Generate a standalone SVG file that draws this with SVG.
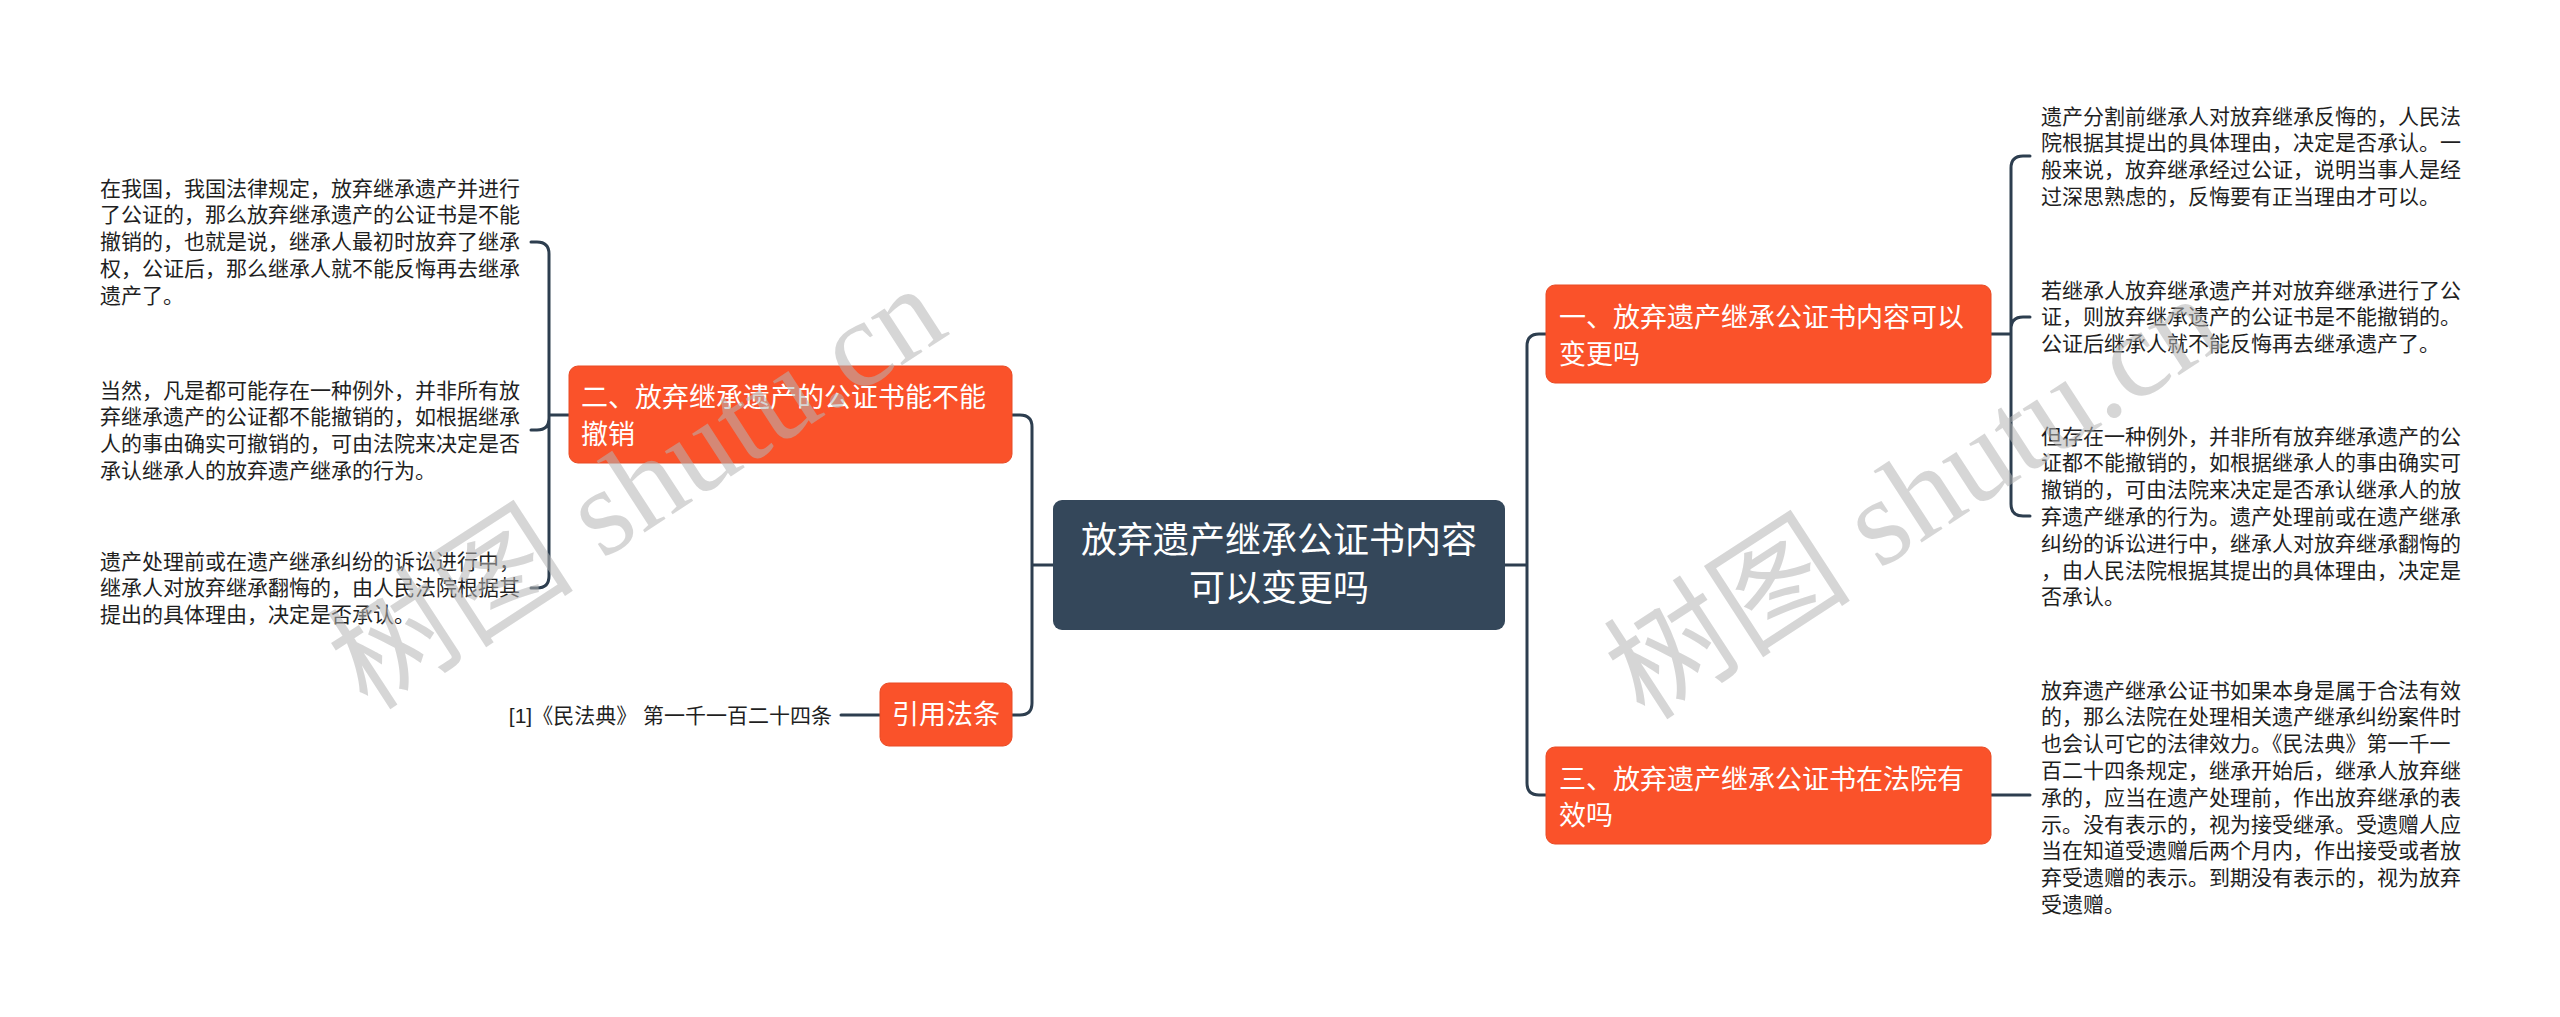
<svg xmlns="http://www.w3.org/2000/svg" width="2560" height="1017" viewBox="0 0 2560 1017">
<style>
.bg{fill:#ffffff}
.sub{fill:#fa522a;stroke:#e84a24;stroke-width:1}
.root{fill:#34475a}
.conn{fill:none;stroke:#2d3e4f;stroke-width:3;stroke-linecap:round}
.t{font-family:'Liberation Sans','Noto Sans CJK SC',sans-serif;dominant-baseline:central}
.leaf{font-size:21px;fill:#1f1f1f}
.st{font-size:27px;fill:#ffffff}
.rt{font-size:36px;fill:#ffffff;text-anchor:middle}
.wm{font-family:'Liberation Serif','Noto Sans CJK SC',serif;font-size:124px;fill:#b4b4b4;fill-opacity:0.55}
</style>
<rect class="bg" x="0" y="0" width="2560" height="1017"/>

<g id="connectors">
<path class="conn" d="M1053,565 H1032 M1032,565 V427 Q1032,415 1020,415 H1012 M1032,565 V703 Q1032,715 1020,715 H1012"/>
<path class="conn" d="M1505,565 H1527 M1527,565 V346 Q1527,334 1539,334 H1546 M1527,565 V783 Q1527,795 1539,795 H1546"/>
<path class="conn" d="M1991,334 H2011 M2030,156 H2023 Q2011,156 2011,168 V504 Q2011,516 2023,516 H2030 M2011,329 Q2011,317 2023,317 H2030"/>
<path class="conn" d="M1991,795 H2030"/>
<path class="conn" d="M569,415 H549 M531,242 H537 Q549,242 549,254 V576 Q549,588 537,588 H531 M549,418 Q549,430 537,430 H531"/>
<path class="conn" d="M880,715 H841"/>
</g>

<g id="root">
<rect class="root" x="1053" y="500" width="452" height="130" rx="9"/>
<text class="t rt" x="1279" y="540">放弃遗产继承公证书内容</text>
<text class="t rt" x="1279" y="588">可以变更吗</text>
</g>

<g id="node1">
<rect class="sub" x="1546" y="285" width="445" height="98" rx="9"/>
<text class="t st" x="1559" y="318">一、放弃遗产继承公证书内容可以</text>
<text class="t st" x="1559" y="355">变更吗</text>
</g>

<g id="node2">
<rect class="sub" x="569" y="366" width="443" height="97" rx="9"/>
<text class="t st" x="581" y="398">二、放弃继承遗产的公证书能不能</text>
<text class="t st" x="581" y="435">撤销</text>
</g>

<g id="node3">
<rect class="sub" x="1546" y="747" width="445" height="97" rx="9"/>
<text class="t st" x="1559" y="780">三、放弃遗产继承公证书在法院有</text>
<text class="t st" x="1559" y="816">效吗</text>
</g>

<g id="node-cite">
<rect class="sub" x="880" y="683" width="132" height="63" rx="9"/>
<text class="t st" x="946" y="715" text-anchor="middle">引用法条</text>
</g>

<g id="leaf-cite">
<text class="t leaf" x="832" y="715" text-anchor="end">[1]《民法典》 第一千一百二十四条</text>
</g>

<g id="leaf-l1">
<text class="t leaf" x="100" y="188">在我国，我国法律规定，放弃继承遗产并进行</text>
<text class="t leaf" x="100" y="214.8">了公证的，那么放弃继承遗产的公证书是不能</text>
<text class="t leaf" x="100" y="241.6">撤销的，也就是说，继承人最初时放弃了继承</text>
<text class="t leaf" x="100" y="268.4">权，公证后，那么继承人就不能反悔再去继承</text>
<text class="t leaf" x="100" y="295.2">遗产了。</text>
</g>

<g id="leaf-l2">
<text class="t leaf" x="100" y="390">当然，凡是都可能存在一种例外，并非所有放</text>
<text class="t leaf" x="100" y="416.8">弃继承遗产的公证都不能撤销的，如根据继承</text>
<text class="t leaf" x="100" y="443.6">人的事由确实可撤销的，可由法院来决定是否</text>
<text class="t leaf" x="100" y="470.4">承认继承人的放弃遗产继承的行为。</text>
</g>

<g id="leaf-l3">
<text class="t leaf" x="100" y="561">遗产处理前或在遗产继承纠纷的诉讼进行中，</text>
<text class="t leaf" x="100" y="587.8">继承人对放弃继承翻悔的，由人民法院根据其</text>
<text class="t leaf" x="100" y="614.6">提出的具体理由，决定是否承认。</text>
</g>

<g id="leaf-r1">
<text class="t leaf" x="2041" y="116">遗产分割前继承人对放弃继承反悔的，人民法</text>
<text class="t leaf" x="2041" y="142.8">院根据其提出的具体理由，决定是否承认。一</text>
<text class="t leaf" x="2041" y="169.6">般来说，放弃继承经过公证，说明当事人是经</text>
<text class="t leaf" x="2041" y="196.4">过深思熟虑的，反悔要有正当理由才可以。</text>
</g>

<g id="leaf-r2">
<text class="t leaf" x="2041" y="290">若继承人放弃继承遗产并对放弃继承进行了公</text>
<text class="t leaf" x="2041" y="316.8">证，则放弃继承遗产的公证书是不能撤销的。</text>
<text class="t leaf" x="2041" y="343.6">公证后继承人就不能反悔再去继承遗产了。</text>
</g>

<g id="leaf-r3">
<text class="t leaf" x="2041" y="436">但存在一种例外，并非所有放弃继承遗产的公</text>
<text class="t leaf" x="2041" y="462.8">证都不能撤销的，如根据继承人的事由确实可</text>
<text class="t leaf" x="2041" y="489.6">撤销的，可由法院来决定是否承认继承人的放</text>
<text class="t leaf" x="2041" y="516.4">弃遗产继承的行为。遗产处理前或在遗产继承</text>
<text class="t leaf" x="2041" y="543.2">纠纷的诉讼进行中，继承人对放弃继承翻悔的</text>
<text class="t leaf" x="2041" y="570">，由人民法院根据其提出的具体理由，决定是</text>
<text class="t leaf" x="2041" y="596.8">否承认。</text>
</g>

<g id="leaf-r4">
<text class="t leaf" x="2041" y="690">放弃遗产继承公证书如果本身是属于合法有效</text>
<text class="t leaf" x="2041" y="716.8">的，那么法院在处理相关遗产继承纠纷案件时</text>
<text class="t leaf" x="2041" y="743.6">也会认可它的法律效力。《民法典》第一千一</text>
<text class="t leaf" x="2041" y="770.4">百二十四条规定，继承开始后，继承人放弃继</text>
<text class="t leaf" x="2041" y="797.2">承的，应当在遗产处理前，作出放弃继承的表</text>
<text class="t leaf" x="2041" y="824">示。没有表示的，视为接受继承。受遗赠人应</text>
<text class="t leaf" x="2041" y="850.8">当在知道受遗赠后两个月内，作出接受或者放</text>
<text class="t leaf" x="2041" y="877.6">弃受遗赠的表示。到期没有表示的，视为放弃</text>
<text class="t leaf" x="2041" y="904.4">受遗赠。</text>
</g>

<g id="watermarks">
<text class="wm" transform="translate(368,712) rotate(-33)">树图 shutu.cn</text>
<text class="wm" transform="translate(1645,722) rotate(-33)">树图 shutu.cn</text>
</g>
</svg>
